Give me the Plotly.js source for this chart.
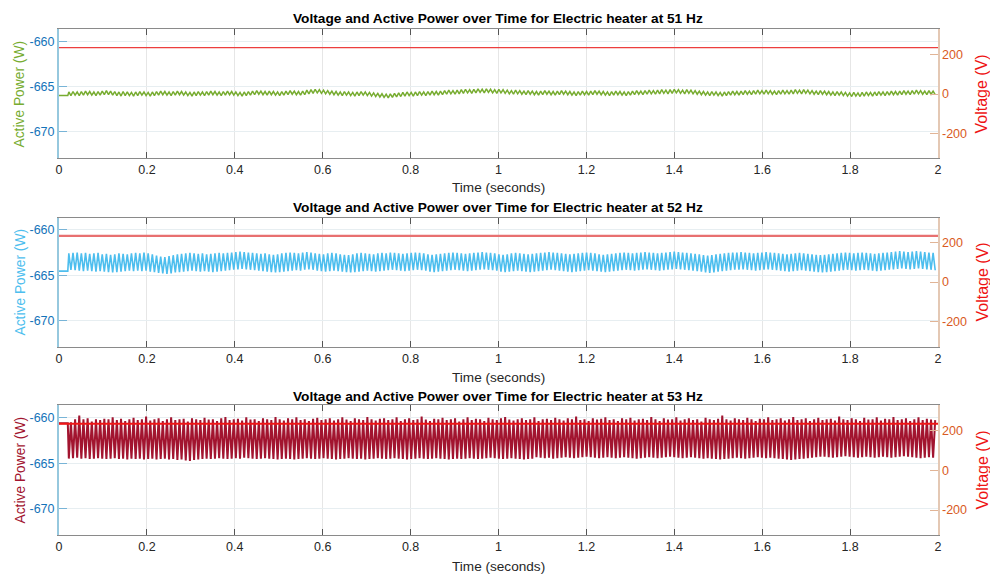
<!DOCTYPE html>
<html>
<head>
<meta charset="utf-8">
<script src="https://cdn.plot.ly/plotly-3.0.1.min.js"></script>
<style>html,body{margin:0;padding:0;background:#fff;}#chart{width:990px;height:574px;}</style>
</head>
<body>
<div id="chart"></div>
<script>
// ---------------- DATA ----------------
const tickTimes = [0, 0.2, 0.4, 0.6, 0.8, 1, 1.2, 1.4, 1.6, 1.8, 2];
const tickTimeLabels = ['0', '0.2', '0.4', '0.6', '0.8', '1', '1.2', '1.4', '1.6', '1.8', '2'];
const powerTicks = [-670, -665, -660];
const powerTickLabels = ['-670', '-665', '-660'];
const voltTicks = [-200, 0, 200];
const voltTickLabels = ['-200', '0', '200'];

const frequencies = ['51 Hz', '52 Hz', '53 Hz'];

// pre-switch samples (t = 0 .. 0.02 s)
const preTime = [0, 0.02];
const prePower51 = [-666.0, -666.0];
const prePower52 = [-664.55, -664.55];
const prePower53 = [-660.65, -660.65];

// oscillation sampling (one max and one min per period)
const oscStart = 0.02;
const oscPeriod = 0.0095;

// Voltage (V)
const voltTime = [0, 2];
const volt51 = [235, 235];
const volt52 = [233, 233];
const volt53 = [235, 235];

// 51 Hz: power maxima / minima per period (W)
const max51 = [
-665.6,-665.55,-665.6,-665.55,-665.5,-665.55,-665.6,-665.55,-665.5,-665.45,-665.5,-665.55,-665.6,-665.55,-665.6,-665.65,
-665.6,-665.55,-665.6,-665.65,-665.6,-665.55,-665.5,-665.55,-665.6,-665.55,-665.5,-665.55,-665.6,-665.65,-665.6,-665.55,
-665.6,-665.55,-665.5,-665.55,-665.6,-665.55,-665.5,-665.55,-665.6,-665.65,-665.6,-665.55,-665.5,-665.45,-665.5,-665.55,
-665.5,-665.55,-665.6,-665.55,-665.5,-665.45,-665.5,-665.55,-665.5,-665.4,-665.35,-665.3,-665.35,-665.4,-665.45,-665.5,
-665.55,-665.6,-665.55,-665.6,-665.65,-665.6,-665.55,-665.6,-665.65,-665.7,-665.75,-665.8,-665.85,-665.8,-665.75,-665.7,
-665.65,-665.6,-665.65,-665.6,-665.55,-665.6,-665.55,-665.5,-665.55,-665.5,-665.45,-665.4,-665.45,-665.4,-665.35,-665.3,
-665.35,-665.3,-665.25,-665.3,-665.25,-665.3,-665.35,-665.3,-665.35,-665.4,-665.45,-665.4,-665.45,-665.5,-665.45,-665.5,
-665.55,-665.5,-665.45,-665.5,-665.55,-665.5,-665.45,-665.5,-665.55,-665.6,-665.55,-665.5,-665.55,-665.5,-665.45,-665.5,
-665.55,-665.6,-665.55,-665.5,-665.55,-665.6,-665.55,-665.5,-665.45,-665.5,-665.45,-665.4,-665.45,-665.4,-665.35,-665.4,
-665.35,-665.3,-665.35,-665.4,-665.35,-665.4,-665.45,-665.5,-665.55,-665.6,-665.55,-665.6,-665.65,-665.6,-665.55,-665.5,
-665.55,-665.5,-665.45,-665.5,-665.45,-665.4,-665.45,-665.4,-665.45,-665.5,-665.45,-665.4,-665.45,-665.4,-665.35,-665.4,
-665.35,-665.4,-665.45,-665.5,-665.45,-665.5,-665.55,-665.6,-665.55,-665.6,-665.65,-665.7,-665.65,-665.7,-665.65,-665.6,
-665.65,-665.6,-665.55,-665.6,-665.55,-665.5,-665.55,-665.5,-665.45,-665.5,-665.45,-665.4,-665.45,-665.5,-665.45,-665.5
];
const min51 = [
-666.0,-665.95,-666.0,-665.95,-665.9,-665.95,-666.0,-665.95,-665.9,-665.9,-665.95,-666.0,-666.05,-666.0,-666.0,-666.05,
-666.0,-665.95,-666.0,-666.05,-666.0,-665.95,-665.9,-665.95,-666.0,-665.95,-665.9,-665.95,-666.0,-666.05,-666.0,-665.95,
-666.0,-665.95,-665.9,-665.95,-666.0,-665.95,-665.9,-665.95,-666.0,-666.05,-666.0,-665.95,-665.9,-665.85,-665.9,-665.95,
-665.9,-665.95,-666.0,-665.95,-665.9,-665.85,-665.9,-665.95,-665.9,-665.8,-665.75,-665.7,-665.75,-665.8,-665.85,-665.9,
-665.95,-666.0,-665.95,-666.0,-666.05,-666.0,-665.95,-666.0,-666.05,-666.1,-666.15,-666.2,-666.25,-666.2,-666.15,-666.1,
-666.05,-666.0,-666.05,-666.0,-665.95,-666.0,-665.95,-665.9,-665.95,-665.9,-665.85,-665.8,-665.85,-665.8,-665.75,-665.7,
-665.75,-665.7,-665.65,-665.7,-665.65,-665.7,-665.75,-665.7,-665.75,-665.8,-665.85,-665.8,-665.85,-665.9,-665.85,-665.9,
-665.95,-665.9,-665.85,-665.9,-665.95,-665.9,-665.85,-665.9,-665.95,-666.0,-665.95,-665.9,-665.95,-665.9,-665.85,-665.9,
-665.95,-666.0,-665.95,-665.9,-665.95,-666.0,-665.95,-665.9,-665.85,-665.9,-665.85,-665.8,-665.85,-665.8,-665.75,-665.8,
-665.75,-665.7,-665.75,-665.8,-665.75,-665.8,-665.85,-665.9,-665.95,-666.0,-665.95,-666.0,-666.05,-666.0,-665.95,-665.9,
-665.95,-665.9,-665.85,-665.9,-665.85,-665.8,-665.85,-665.8,-665.85,-665.9,-665.85,-665.8,-665.85,-665.8,-665.75,-665.8,
-665.75,-665.8,-665.85,-665.9,-665.85,-665.9,-665.95,-666.0,-665.95,-666.0,-666.05,-666.1,-666.05,-666.1,-666.05,-666.0,
-666.05,-666.0,-665.95,-666.0,-665.95,-665.9,-665.95,-665.9,-665.85,-665.9,-665.85,-665.8,-665.85,-665.9,-665.85,-665.9
];

// 52 Hz: power maxima / minima per period (W)
const max52 = [
-662.6,-662.55,-662.5,-662.6,-662.55,-662.65,-662.6,-662.55,-662.7,-662.65,-662.75,-662.7,-662.6,-662.65,-662.7,-662.6,
-662.55,-662.6,-662.5,-662.6,-662.7,-662.85,-662.95,-663.0,-662.9,-662.8,-662.7,-662.65,-662.6,-662.55,-662.6,-662.65,
-662.6,-662.7,-662.65,-662.6,-662.55,-662.6,-662.55,-662.5,-662.45,-662.4,-662.45,-662.5,-662.55,-662.6,-662.65,-662.6,
-662.7,-662.75,-662.7,-662.6,-662.55,-662.5,-662.55,-662.6,-662.5,-662.45,-662.5,-662.6,-662.65,-662.7,-662.6,-662.55,
-662.6,-662.7,-662.75,-662.8,-662.7,-662.6,-662.55,-662.6,-662.65,-662.7,-662.6,-662.55,-662.6,-662.5,-662.55,-662.6,
-662.65,-662.6,-662.55,-662.5,-662.55,-662.6,-662.7,-662.75,-662.7,-662.65,-662.6,-662.55,-662.5,-662.55,-662.6,-662.65,
-662.6,-662.55,-662.5,-662.45,-662.5,-662.55,-662.6,-662.7,-662.75,-662.7,-662.6,-662.55,-662.6,-662.65,-662.7,-662.65,
-662.6,-662.55,-662.5,-662.45,-662.5,-662.55,-662.6,-662.65,-662.7,-662.65,-662.6,-662.55,-662.5,-662.55,-662.6,-662.7,
-662.75,-662.7,-662.65,-662.6,-662.55,-662.5,-662.55,-662.6,-662.55,-662.5,-662.45,-662.5,-662.55,-662.6,-662.55,-662.5,
-662.45,-662.4,-662.45,-662.5,-662.55,-662.6,-662.65,-662.7,-662.8,-662.85,-662.8,-662.7,-662.65,-662.6,-662.55,-662.5,
-662.5,-662.45,-662.5,-662.55,-662.6,-662.55,-662.5,-662.45,-662.5,-662.55,-662.6,-662.65,-662.7,-662.65,-662.6,-662.55,
-662.6,-662.65,-662.7,-662.75,-662.8,-662.75,-662.7,-662.65,-662.6,-662.55,-662.5,-662.55,-662.6,-662.55,-662.5,-662.55,
-662.6,-662.65,-662.6,-662.55,-662.5,-662.45,-662.4,-662.35,-662.4,-662.45,-662.4,-662.35,-662.4,-662.45,-662.5,-662.55
];
const min52 = [
-664.4,-664.45,-664.5,-664.55,-664.5,-664.55,-664.6,-664.55,-664.6,-664.65,-664.7,-664.65,-664.6,-664.55,-664.5,-664.55,
-664.5,-664.55,-664.5,-664.6,-664.65,-664.75,-664.8,-664.85,-664.8,-664.7,-664.65,-664.6,-664.55,-664.5,-664.55,-664.6,
-664.55,-664.6,-664.65,-664.6,-664.55,-664.5,-664.45,-664.4,-664.35,-664.3,-664.35,-664.4,-664.45,-664.5,-664.55,-664.6,
-664.65,-664.7,-664.65,-664.6,-664.55,-664.5,-664.45,-664.5,-664.4,-664.35,-664.4,-664.5,-664.55,-664.6,-664.55,-664.5,
-664.55,-664.6,-664.65,-664.7,-664.65,-664.6,-664.55,-664.5,-664.55,-664.6,-664.55,-664.5,-664.45,-664.4,-664.45,-664.5,
-664.55,-664.5,-664.45,-664.4,-664.45,-664.5,-664.6,-664.65,-664.6,-664.55,-664.5,-664.45,-664.4,-664.45,-664.5,-664.55,
-664.5,-664.45,-664.4,-664.35,-664.4,-664.45,-664.5,-664.6,-664.65,-664.6,-664.55,-664.5,-664.55,-664.6,-664.65,-664.6,
-664.55,-664.5,-664.45,-664.4,-664.45,-664.5,-664.55,-664.6,-664.65,-664.6,-664.55,-664.5,-664.45,-664.5,-664.55,-664.6,
-664.65,-664.6,-664.55,-664.5,-664.45,-664.4,-664.45,-664.5,-664.45,-664.4,-664.35,-664.4,-664.45,-664.5,-664.45,-664.4,
-664.35,-664.3,-664.35,-664.4,-664.45,-664.5,-664.55,-664.6,-664.7,-664.75,-664.7,-664.6,-664.55,-664.5,-664.45,-664.4,
-664.4,-664.35,-664.4,-664.45,-664.5,-664.45,-664.4,-664.35,-664.4,-664.45,-664.5,-664.55,-664.6,-664.55,-664.5,-664.45,
-664.5,-664.55,-664.6,-664.65,-664.7,-664.65,-664.6,-664.55,-664.5,-664.45,-664.4,-664.45,-664.5,-664.45,-664.4,-664.45,
-664.5,-664.55,-664.5,-664.45,-664.4,-664.35,-664.3,-664.25,-664.3,-664.35,-664.3,-664.25,-664.3,-664.35,-664.4,-664.45
];

// 53 Hz: power minima / maxima per period (W)
const min53 = [
-664.5,-664.45,-664.4,-664.5,-664.45,-664.55,-664.5,-664.45,-664.5,-664.55,-664.5,-664.45,-664.55,-664.5,-664.6,-664.5,
-664.55,-664.5,-664.6,-664.55,-664.5,-664.6,-664.55,-664.5,-664.6,-664.55,-664.65,-664.6,-664.7,-664.75,-664.65,-664.6,
-664.55,-664.5,-664.55,-664.5,-664.45,-664.5,-664.55,-664.5,-664.45,-664.5,-664.4,-664.45,-664.5,-664.55,-664.5,-664.45,
-664.5,-664.55,-664.6,-664.55,-664.5,-664.55,-664.6,-664.55,-664.5,-664.45,-664.5,-664.55,-664.5,-664.45,-664.5,-664.55,
-664.6,-664.55,-664.5,-664.45,-664.5,-664.55,-664.5,-664.6,-664.55,-664.5,-664.45,-664.5,-664.55,-664.5,-664.45,-664.5,
-664.55,-664.6,-664.55,-664.5,-664.45,-664.5,-664.55,-664.5,-664.45,-664.5,-664.55,-664.6,-664.55,-664.5,-664.55,-664.5,
-664.45,-664.5,-664.55,-664.5,-664.45,-664.4,-664.45,-664.5,-664.55,-664.5,-664.45,-664.5,-664.55,-664.6,-664.55,-664.5,
-664.35,-664.4,-664.45,-664.4,-664.5,-664.45,-664.4,-664.35,-664.4,-664.45,-664.4,-664.35,-664.3,-664.35,-664.4,-664.45,
-664.4,-664.35,-664.4,-664.45,-664.4,-664.35,-664.4,-664.45,-664.5,-664.45,-664.4,-664.35,-664.4,-664.45,-664.4,-664.35,
-664.3,-664.35,-664.4,-664.45,-664.4,-664.35,-664.4,-664.45,-664.5,-664.45,-664.5,-664.55,-664.6,-664.55,-664.5,-664.45,
-664.4,-664.45,-664.5,-664.45,-664.4,-664.35,-664.4,-664.45,-664.4,-664.45,-664.5,-664.55,-664.6,-664.65,-664.6,-664.55,
-664.5,-664.45,-664.4,-664.35,-664.3,-664.3,-664.35,-664.4,-664.35,-664.3,-664.25,-664.3,-664.35,-664.4,-664.35,-664.3,
-664.35,-664.4,-664.35,-664.3,-664.35,-664.4,-664.35,-664.3,-664.25,-664.3,-664.35,-664.4,-664.45,-664.4,-664.35,-664.4
];
const max53 = [
-660.55,-660.2,-659.8,-660.2,-660.1,-660.45,-660.2,-660.3,-660.15,-660.2,-660.0,-660.3,-660.15,-660.4,-660.2,-660.05,
-660.3,-660.2,-659.9,-660.35,-660.2,-660.1,-660.4,-660.2,-660.0,-660.3,-660.2,-660.15,-660.45,-660.1,-660.2,-660.3,
-660.05,-660.25,-660.2,-660.4,-660.1,-659.95,-660.3,-660.2,-660.15,-660.35,-660.0,-660.25,-660.2,-660.4,-660.1,-660.2,
-660.3,-659.95,-660.2,-660.35,-660.1,-660.2,-660.0,-660.3,-660.2,-660.4,-660.15,-660.05,-660.3,-660.2,-660.1,-660.35,
-660.2,-660.0,-660.25,-660.4,-660.1,-660.2,-660.3,-659.95,-660.2,-660.35,-660.15,-660.1,-660.3,-660.2,-660.0,-660.4,
-660.2,-660.1,-660.3,-660.2,-659.9,-660.25,-660.4,-660.15,-660.2,-660.05,-660.3,-660.2,-660.1,-660.45,-660.2,-660.0,
-660.3,-660.15,-660.2,-660.4,-660.05,-660.2,-660.3,-660.1,-659.95,-660.25,-660.35,-660.2,-660.1,-660.3,-660.2,-660.0,
-660.4,-660.2,-660.15,-660.3,-660.05,-660.2,-660.35,-660.1,-660.2,-659.9,-660.3,-660.2,-660.4,-660.1,-660.25,-660.15,
-660.0,-660.3,-660.2,-660.4,-660.1,-660.2,-660.05,-660.35,-660.2,-660.15,-660.3,-659.95,-660.2,-660.4,-660.1,-660.25,
-660.2,-660.0,-660.35,-660.2,-660.1,-660.3,-660.2,-660.45,-660.05,-660.2,-660.3,-660.15,-659.8,-660.2,-660.35,-660.1,
-660.2,-660.3,-660.05,-660.2,-660.4,-660.15,-660.2,-660.0,-660.3,-660.2,-660.1,-660.35,-660.2,-659.95,-660.3,-660.2,
-660.1,-660.4,-660.2,-660.05,-660.3,-660.2,-660.15,-660.35,-659.9,-660.2,-660.3,-660.1,-660.2,-660.4,-660.05,-660.25,
-660.2,-660.0,-660.35,-660.15,-660.2,-659.95,-660.3,-660.2,-660.1,-660.4,-660.2,-660.0,-660.3,-660.15,-660.25,-660.3
];

// ---------------- BUILD ----------------
function buildPower(preVals, firstVals, secondVals) {
  const x = preTime.slice(), y = preVals.slice();
  for (let i = 0; i < firstVals.length; i++) {
    x.push(oscStart + (i + 0.25) * oscPeriod); y.push(firstVals[i]);
    x.push(oscStart + (i + 0.75) * oscPeriod); y.push(secondVals[i]);
  }
  return { x, y };
}

const FONT = 'Liberation Sans, Arial, Helvetica, sans-serif';
const powerColors = ['#77AC30', '#4DBEEE', '#A2142F'];
const voltColors = ['rgb(236,62,62)', 'rgb(232,112,112)', 'rgb(240,22,22)'];
const voltWidths = [1.3, 2.3, 2];
const powerWidths = [1.5, 1.6, 2];

const series = [
  buildPower(prePower51, max51, min51),
  buildPower(prePower52, max52, min52),
  buildPower(prePower53, min53, max53)
];
const volts = [volt51, volt52, volt53];

// panel geometry (paper fractions)
const xDom = [59 / 990, 938 / 990];
const yDoms = [[0.7253, 0.9490], [0.3960, 0.6207], [0.0679, 0.2939]];
const voltRanges = [[-322, 328], [-326, 325], [-326, 328]];
const powerRange = [-672.85, -658.68];

const traces = [];
const layout = {
  width: 990, height: 574,
  margin: { l: 0, r: 0, t: 0, b: 0 },
  paper_bgcolor: '#fff', plot_bgcolor: '#fff',
  showlegend: false,
  font: { family: FONT, color: '#262626' },
  annotations: []
};

const titleY = [19, 207.5, 396];
const xLabelY = [188, 377, 566];
const leftTitleY = [94, 282, 470];

for (let p = 0; p < 3; p++) {
  const xa = p === 0 ? 'x' : 'x' + (p + 1);
  const yl = 'y' + (2 * p + 1 === 1 ? '' : 2 * p + 1);
  const yr = 'y' + (2 * p + 2);
  traces.push({
    x: series[p].x, y: series[p].y, xaxis: xa, yaxis: yl,
    type: 'scatter', mode: 'lines',
    line: { color: powerColors[p], width: powerWidths[p] },
    name: 'Active Power ' + frequencies[p], hoverinfo: 'skip'
  });
  traces.push({
    x: voltTime, y: volts[p], xaxis: xa, yaxis: yr,
    type: 'scatter', mode: 'lines',
    line: { color: voltColors[p], width: voltWidths[p] },
    name: 'Voltage ' + frequencies[p], hoverinfo: 'skip'
  });
  const xKey = 'xaxis' + (p === 0 ? '' : p + 1);
  const ylKey = 'yaxis' + (2 * p + 1 === 1 ? '' : 2 * p + 1);
  const yrKey = 'yaxis' + (2 * p + 2);
  layout[xKey] = {
    domain: xDom, anchor: yl, range: [0, 2],
    tickmode: 'array', tickvals: tickTimes, ticktext: tickTimeLabels,
    ticks: 'inside', ticklen: 6, tickcolor: '#555', tickwidth: 1,
    showline: true, linecolor: '#8a8a8a', linewidth: 1, mirror: 'ticks',
    showgrid: true, gridcolor: '#e6e6e6', gridwidth: 1, zeroline: false,
    tickfont: { size: 12.5, color: '#262626', family: FONT }
  };
  layout[ylKey] = {
    domain: yDoms[p], anchor: xa, range: powerRange,
    tickmode: 'array', tickvals: powerTicks, ticktext: powerTickLabels,
    ticks: 'inside', ticklen: 8, tickcolor: 'rgb(120,180,215)', tickwidth: 1,
    showline: true, linecolor: 'rgb(150,200,222)', linewidth: 2,
    showgrid: true, gridcolor: '#e7eef1', zeroline: false,
    tickfont: { size: 12.5, color: 'rgb(20,115,185)', family: FONT }
  };
  layout[yrKey] = {
    overlaying: yl, side: 'right', anchor: xa, range: voltRanges[p],
    tickmode: 'array', tickvals: voltTicks, ticktext: voltTickLabels,
    ticks: 'inside', ticklen: 8, tickcolor: 'rgb(225,180,150)', tickwidth: 1,
    showline: true, linecolor: 'rgb(228,200,180)', linewidth: 1.5,
    showgrid: false, zeroline: false,
    tickfont: { size: 12.5, color: 'rgb(217,90,35)', family: FONT }
  };
  layout.annotations.push(
    { text: 'Voltage and Active Power over Time for Electric heater at ' + frequencies[p],
      xref: 'paper', yref: 'paper', x: 498.5 / 990, y: 1 - titleY[p] / 574,
      xanchor: 'center', yanchor: 'middle', showarrow: false,
      font: { family: FONT, size: 13.7, color: '#000', weight: 'bold' } },
    { text: 'Time (seconds)', xref: 'paper', yref: 'paper', x: 498.5 / 990, y: 1 - xLabelY[p] / 574,
      xanchor: 'center', yanchor: 'middle', showarrow: false,
      font: { family: FONT, size: 13.6, color: '#262626' } },
    { text: 'Active Power (W)', xref: 'paper', yref: 'paper', x: 19.5 / 990, y: 1 - leftTitleY[p] / 574,
      xanchor: 'center', yanchor: 'middle', showarrow: false, textangle: -90,
      font: { family: FONT, size: 13.8, color: powerColors[p] } },
    { text: 'Voltage (V)', xref: 'paper', yref: 'paper', x: 981.5 / 990, y: 1 - leftTitleY[p] / 574,
      xanchor: 'center', yanchor: 'middle', showarrow: false, textangle: -90,
      font: { family: FONT, size: 16, color: 'rgb(238,20,20)' } }
  );
}

Plotly.newPlot('chart', traces, layout, { staticPlot: true, displayModeBar: false });
</script>
</body>
</html>
